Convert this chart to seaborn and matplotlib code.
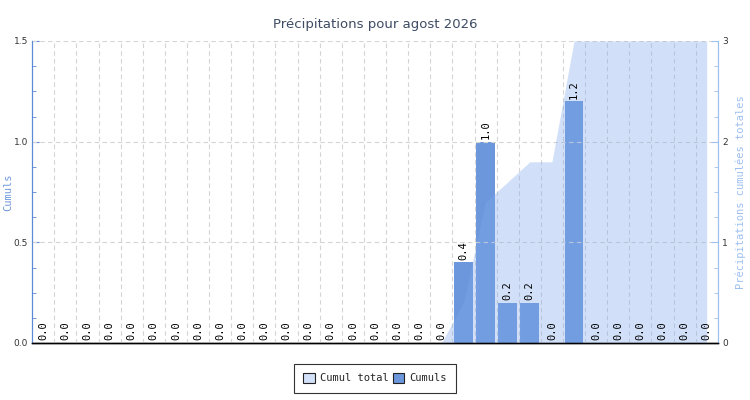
import numpy as np
import pandas as pd
import matplotlib
matplotlib.use("Agg")
import matplotlib.pyplot as plt
from matplotlib.patches import Patch
from matplotlib.ticker import MultipleLocator, FixedLocator
import seaborn as sns

days = [f"{d:02d}" for d in range(1, 32)]
cumuls = [0.0] * 19 + [0.4, 1.0, 0.2, 0.2, 0.0, 1.2, 0.0, 0.0, 0.0, 0.0, 0.0, 0.0]
cumul_total = [0.0] * 19 + [0.4, 1.4, 1.6, 1.8, 1.8, 3.0, 3.0, 3.0, 3.0, 3.0, 3.0, 3.0]
area_start = 18  # index of day 19, where the area begins

titre = "Précipitations pour agost 2026"
label_gauche = "Cumuls"
label_droite = "Précipitations cumulées totales"
legende = ["Cumul total", "Cumuls"]

bar_color = "#6c97dc"
area_color = "#82aaec"
mono = "DejaVu Sans Mono"

sns.set_style("white")
plt.rcParams["font.family"] = ["DejaVu Sans"]

df = pd.DataFrame({"jour": days, "cumul": cumuls})

fig = plt.figure(figsize=(7.5, 4), dpi=100)
ax = fig.add_axes([0.043, 0.1425, 0.914, 0.755])
sns.barplot(data=df, x="jour", y="cumul", ax=ax, color=bar_color,
            saturation=1, width=0.85, linewidth=0)
ax.set_xlim(-0.5, 30.5)
ax.set_ylim(0, 1.5)

ax2 = ax.twinx()
x_area = np.arange(area_start, len(days))
ax2.fill_between(x_area, np.array(cumul_total)[area_start:], color=area_color,
                 alpha=0.36, linewidth=0)
ax2.set_ylim(0, 3)

# grille sur l'axe du dessus (par-dessus la zone)
ax2.xaxis.set_visible(True)
ax2.xaxis.set_minor_locator(FixedLocator(np.arange(-0.5, 31, 1)))
ax2.xaxis.set_major_locator(FixedLocator([]))
ax2.yaxis.set_major_locator(MultipleLocator(1))
ax2.yaxis.set_minor_locator(MultipleLocator(0.25))
ax2.grid(which="minor", axis="x", color="#d4d4d4", linestyle=(0, (4, 3)), linewidth=0.8)
ax2.grid(which="major", axis="y", color="#d4d4d4", linestyle=(0, (4, 3)), linewidth=0.8)

# valeurs au-dessus des barres
for bar in ax.patches:
    h = bar.get_height()
    ax2.annotate(f"{h:.1f}", (bar.get_x() + bar.get_width() / 2, h),
                 xycoords=ax.transData, xytext=(0, 2), textcoords="offset points",
                 rotation=90, ha="center", va="bottom", fontsize=7.5,
                 family=mono, color="black")

# axes
ax.yaxis.set_major_locator(MultipleLocator(0.5))
ax.yaxis.set_minor_locator(MultipleLocator(0.125))
ax.yaxis.set_major_formatter(matplotlib.ticker.FormatStrFormatter("%.1f"))
ax.xaxis.set_minor_locator(FixedLocator(np.arange(-0.5, 31, 1)))
ax.tick_params(axis="x", which="major", length=0, labelsize=6.5, colors="#333333", pad=3)
ax.tick_params(axis="x", which="minor", length=4, direction="in", color="black", width=0.8)
ax.tick_params(axis="y", which="both", direction="in", color="#5b8bd8", labelsize=6.5,
               labelcolor="#333333", pad=3)
ax.tick_params(axis="y", which="major", length=5)
ax.tick_params(axis="y", which="minor", length=3)
ax2.tick_params(axis="y", which="both", direction="in", color="#a0c0f0", labelsize=6.5,
                labelcolor="#333333", pad=3)
ax2.tick_params(axis="y", which="major", length=5)
ax2.tick_params(axis="y", which="minor", length=3)
ax2.tick_params(axis="x", which="both", length=0, labelbottom=False, labeltop=False)

ax.set_xlabel("")
ax.set_ylabel(label_gauche, family=mono, fontsize=7.5, color="#6f98dc", labelpad=0)
ax2.set_ylabel(label_droite, family=mono, fontsize=7.5, color="#9dbff0", labelpad=6)

for a in (ax, ax2):
    a.spines["top"].set_visible(False)
    a.spines["bottom"].set_color("black")
    a.spines["bottom"].set_linewidth(1)
    a.spines["left"].set_color("#5b8bd8")
    a.spines["right"].set_color("#a0c0f0")

fig.suptitle(titre, y=0.955, fontsize=9.5, color="#3d4b63")

handles = [Patch(facecolor="#d2e0f8", edgecolor="#222222", linewidth=0.8),
           Patch(facecolor=bar_color, edgecolor="#222222", linewidth=0.8)]
leg = fig.legend(handles, legende, loc="lower center", bbox_to_anchor=(0.5, 0.005), ncol=2,
                 frameon=True, fancybox=False, edgecolor="black", handlelength=1.1,
                 handleheight=1.1, handletextpad=0.5, columnspacing=0.4,
                 prop={"family": mono, "size": 7.5}, borderpad=0.9)
leg.get_frame().set_linewidth(0.8)

fig.savefig("out.png", dpi=100)
